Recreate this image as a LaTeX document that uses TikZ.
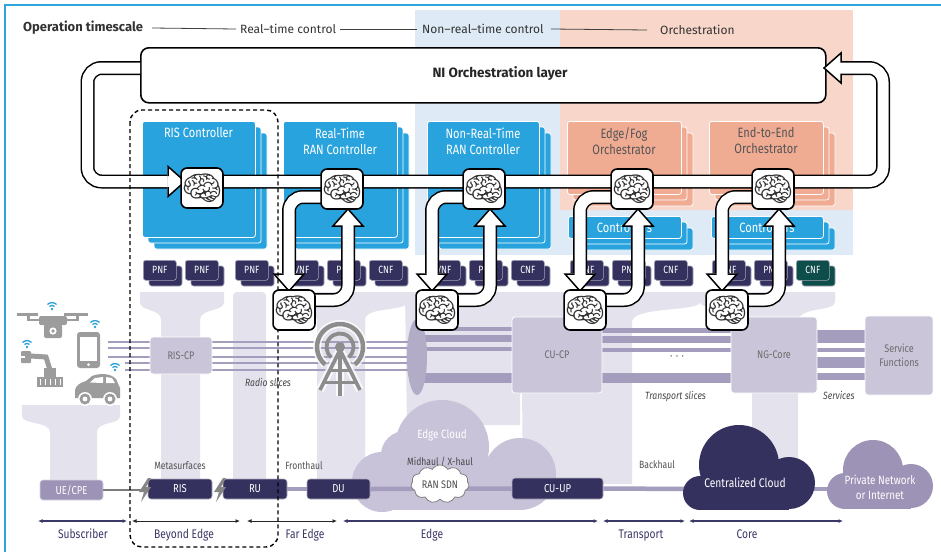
\documentclass[tikz,border=0pt]{standalone}
\usepackage{fontspec}
\setmainfont{Fira Sans}
\newfontfamily\cond[FakeStretch=0.82]{Fira Sans}
\newfontfamily\emo{Noto Emoji}
\usetikzlibrary{arrows.meta,shapes.symbols}

\definecolor{frameblue}{HTML}{2EA7DF}
\definecolor{nrtbg}{HTML}{DEEBF7}
\definecolor{orchbg}{HTML}{F8D6C9}
\definecolor{ctlblue}{HTML}{29A3DD}
\definecolor{salmon}{HTML}{F0AB93}
\definecolor{navy}{HTML}{34315F}
\definecolor{cnfgreen}{HTML}{0D4D4A}
\definecolor{pillar}{HTML}{E4E2EC}
\definecolor{lav}{HTML}{CBC5DA}
\definecolor{lavdark}{HTML}{9D93B6}
\definecolor{slice}{HTML}{A59DBD}
\definecolor{edgecloud}{HTML}{C9C3D9}
\definecolor{txtgray}{HTML}{6B6B6B}
\definecolor{icongray}{HTML}{9C9C9C}
\definecolor{towergray}{HTML}{8D8D8D}
\definecolor{wifiblue}{HTML}{2B9FD9}
\definecolor{spannavy}{HTML}{3A3866}
\definecolor{braingray}{HTML}{333333}
\definecolor{orchtext}{HTML}{555555}

% back sheets of a stacked panel: style, x, y, width, height
\newcommand\sheets[5]{%
  \draw[#1] (#2+12,#3+12) rectangle ++(#4,#5);
  \draw[#1] (#2+6,#3+6) rectangle ++(#4,#5);}
% network function tile with its shadow: name, x, label, fill
\newcommand\nfunit[4]{%
  \draw[nfsh, fill=#4] (#2+6,266) rectangle ++(33,20);
  \node[nf, fill=#4, anchor=north west] (#1) at (#2,260) {#3};}
% hollow pipe: black rim, white core
\newcommand\pipe[1]{\draw[pipeO] #1; \draw[pipeI] #1;}
% hollow arrowhead: tip x, tip y, direction
\newcommand\arrowhd[3]{%
  \begin{scope}[shift={(#1,#2)},rotate=#3]
    \fill[white] (-17.6,-15) -- (0,0) -- (-17.6,15) -- cycle;
    \draw[black,line width=1.5,line join=miter,miter limit=10]
      (-17,-5.5) -- (-17,-15) -- (0,0) -- (-17,15) -- (-17,5.5);
  \end{scope}}
% small wifi mark above a point
\newcommand\wifi[2]{%
  \fill[wifiblue] (#1,#2) circle (1.4);
  \draw[wifiblue,line width=1.3] ([shift={(225:3.6)}]#1,#2) arc[start angle=225,end angle=315,radius=3.6];
  \draw[wifiblue,line width=1.3] ([shift={(225:6.4)}]#1,#2) arc[start angle=225,end angle=315,radius=6.4];}
% lightning bolt centred on a point
\newcommand\bolt[2]{%
  \fill[icongray!85!black] (#1+3,#2-12) -- (#1-6,#2+2) -- (#1-1,#2+2) -- (#1-4,#2+12)
    -- (#1+6,#2-3) -- (#1+1,#2-3) -- (#1+6,#2-12) -- cycle;}
\newcommand\brainglyph{{\emo\fontsize{33}{33}\selectfont\textcolor{braingray}{🧠}}}

\begin{document}
\begin{tikzpicture}[x=1pt,y=-1pt,
  hdr/.style={anchor=west, inner sep=0, text=black!80, font=\fontsize{12}{14}\selectfont},
  hline/.style={draw=black!75, line width=0.8},
  ctl/.style={fill=ctlblue, draw=white, line width=0.8, rounded corners=2.5},
  orchbox/.style={fill=salmon, draw=white, line width=0.8, rounded corners=2.5},
  paneltext/.style={anchor=north, align=center, inner sep=0, text=white, font=\cond\fontsize{13.5}{16.5}\selectfont},
  nf/.style={draw=white!55!navy, line width=0.6, rounded corners=2.5, minimum width=33, minimum height=20,
    inner sep=0, text=white, font=\cond\fontsize{10.5}{12}\selectfont},
  nfsh/.style={draw=white!55!navy, line width=0.6, rounded corners=2.5},
  midbox/.style={fill=lav, draw=white, line width=0.8, rounded corners=3, inner sep=0, text=txtgray,
    font=\cond\fontsize{11}{14}\selectfont, align=center},
  rowbox/.style={fill=navy, draw=white!60!navy, line width=0.6, rounded corners=3, minimum height=20,
    inner sep=0, text=white, font=\cond\fontsize{11.5}{13}\selectfont},
  lbl/.style={anchor=base, inner sep=0, text=black!68, font=\cond\fontsize{10.5}{12}\selectfont},
  spanlbl/.style={anchor=base, inner sep=0, text=spannavy, font=\cond\fontsize{12.5}{14}\selectfont},
  slicelbl/.style={anchor=base west, inner sep=0, text=black!72, font=\cond\itshape\fontsize{10.5}{12}\selectfont},
  span/.style={draw=spannavy, line width=1.6, {Latex[length=4.5,width=4]}-{Latex[length=4.5,width=4]}},
  spanthin/.style={draw=black!85, line width=0.9, {Latex[length=4.5,width=4]}-{Latex[length=4.5,width=4]}},
  link/.style={draw=slice, line width=4.5},
  pipeO/.style={draw=black, line width=14, rounded corners=14},
  pipeI/.style={draw=white, line width=11, rounded corners=14},
  brainbox/.style={draw=black, line width=1.6, fill=white, rounded corners=6, minimum width=41,
    minimum height=40, inner sep=0}]

\useasboundingbox (0,0) rectangle (941,552);
\fill[white] (0,0) rectangle (941,552);

% ---- timescale bands and frame
\fill[nrtbg] (415,10) rectangle (853,255);
\fill[orchbg] (560,10) rectangle (853,210);
\draw[frameblue, line width=1.4] (5,552) -- (5,5) -- (941,5);

% ---- header
\node[hdr, font=\bfseries\fontsize{13}{15}\selectfont] (ts) at (23,28) {Operation timescale};
\node[hdr] (rt) at (240,29) {Real–time control};
\node[hdr] (nrt) at (422,29) {Non–real–time control};
\node[hdr] (orc) at (660,30) {Orchestration};
\draw[hline] ([xshift=9]ts.east) -- ([xshift=-4]rt.west);
\draw[hline] ([xshift=4]rt.east) -- ([xshift=-5]nrt.west);
\draw[hline] ([xshift=7]nrt.east) -- ([xshift=-13]orc.west);

% ---- pillars behind the network
\fill[pillar] (22,405) -- (120,405) -- (120,416) .. controls (120,425) and (97,421) .. (97,432)
  -- (97,482) -- (50,482) -- (50,432) .. controls (50,421) and (22,425) .. (22,416) -- cycle;
\fill[pillar] (140,292) -- (224,292) -- (224,302) .. controls (224,312) and (200,308) .. (200,320)
  -- (200,482) -- (161,482) -- (161,320) .. controls (161,308) and (140,312) .. (140,302) -- cycle;
\fill[pillar, rounded corners=4] (233,292) rectangle (266,482);
\fill[pillar] (277,292) -- (407,292) -- (407,302) .. controls (407,312) and (365,306) .. (365,320)
  -- (365,482) -- (317,482) -- (317,320) .. controls (317,306) and (277,312) .. (277,302) -- cycle;
\fill[pillar] (405,292) -- (548,292) -- (548,302) .. controls (548,312) and (520,306) .. (520,322)
  -- (520,425) -- (407,425) -- cycle;
\fill[pillar] (521,292) -- (700,292) -- (700,302) .. controls (700,312) and (632,306) .. (632,322)
  -- (632,484) -- (523,484) -- cycle;
\fill[pillar] (700,292) -- (835,292) -- (835,302) .. controls (835,312) and (798,306) .. (798,322)
  -- (798,470) -- (752,470) -- (752,322) .. controls (752,306) and (700,312) .. (700,302) -- cycle;

% ---- orchestration layer
\node[draw=black, line width=1.6, fill=white, rounded corners=8, minimum width=685, minimum height=55,
  inner sep=0, anchor=north west] (orch) at (140,47) {};
\node[inner sep=0, text=black!85, font=\bfseries\fontsize{13.5}{16}\selectfont] (orchlbl) at (500,74) {NI Orchestration layer};

% ---- controllers and orchestrators
\sheets{ctl}{142}{121}{113}{116}
\node[ctl, anchor=north west, minimum width=113, minimum height=116, inner sep=0] (risctl) at (142,121) {};
\node[paneltext, anchor=base] (risctlt) at (198.5,137) {RIS Controller};

\sheets{ctl}{283}{121}{114}{116}
\node[ctl, anchor=north west, minimum width=114, minimum height=116, inner sep=0] (rtctl) at (283,121) {};
\node[paneltext] (rtctlt) at (340,127.5) {Real-Time\\RAN Controller};

\sheets{ctl}{427}{121}{112}{116}
\node[ctl, anchor=north west, minimum width=112, minimum height=116, inner sep=0] (nrtctl) at (427,121) {};
\node[paneltext] (nrtctlt) at (483,127.5) {Non-Real-Time\\RAN Controller};

\sheets{orchbox}{567}{121}{114}{73}
\node[orchbox, anchor=north west, minimum width=114, minimum height=73, inner sep=0] (efo) at (567,121) {};
\node[paneltext, text=orchtext, font=\cond\fontsize{13.5}{15.5}\selectfont] (efot) at (624,127.5) {Edge/Fog\\Orchestrator};

\sheets{orchbox}{709}{121}{114}{73}
\node[orchbox, anchor=north west, minimum width=114, minimum height=73, inner sep=0] (e2e) at (709,121) {};
\node[paneltext, text=orchtext, font=\cond\fontsize{13.5}{15.5}\selectfont] (e2et) at (766,127.5) {End-to-End\\Orchestrator};

\sheets{ctl}{568}{216}{113}{22}
\node[ctl, anchor=north west, minimum width=113, minimum height=22, inner sep=0] (efc) at (568,216) {};
\node[paneltext, anchor=base] (efct) at (624.5,232) {Controllers};

\sheets{ctl}{711}{216}{112}{22}
\node[ctl, anchor=north west, minimum width=112, minimum height=22, inner sep=0] (e2c) at (711,216) {};
\node[paneltext, anchor=base] (e2ct) at (767,232) {Controllers};

% ---- network functions
\nfunit{nf1}{143}{PNF}{navy}
\nfunit{nf2}{185}{PNF}{navy}
\nfunit{nf3}{235}{PNF}{navy}
\nfunit{nf4}{285}{VNF}{navy}
\nfunit{nf5}{327}{PNF}{navy}
\nfunit{nf6}{369}{CNF}{navy}
\nfunit{nf7}{427}{VNF}{navy}
\nfunit{nf8}{469}{PNF}{navy}
\nfunit{nf9}{511}{CNF}{navy}
\nfunit{nf10}{570}{VNF}{navy}
\nfunit{nf11}{612}{PNF}{navy}
\nfunit{nf12}{654}{CNF}{navy}
\nfunit{nf13}{712}{VNF}{navy}
\nfunit{nf14}{754}{PNF}{navy}
\nfunit{nf15}{796}{CNF}{cnfgreen}

% ---- user devices
% drone
\fill[icongray] (17,313) rectangle (38,316);
\fill[icongray] (64,313) rectangle (88,316);
\fill[icongray] (26.5,315) rectangle (29.5,321);
\fill[icongray] (75.5,315) rectangle (78.5,321);
\draw[icongray, line width=2.2] (27,320) -- (78,320);
\fill[icongray, rounded corners=2] (39,316) rectangle (67,325);
\fill[icongray, rounded corners=2] (44,324) rectangle (62,338);
\fill[white] (53,331) circle (3.6);
\fill[icongray] (53,331) circle (1.8);
\wifi{52}{309}
% tablet
\fill[icongray, rounded corners=3] (77,332) rectangle (100,368);
\fill[white] (80,337) rectangle (97,361);
\fill[white] (88.5,364.5) circle (1.5);
\wifi{95}{327}
% robot arm
\fill[icongray] (37,377) rectangle (63,387);
\foreach \k in {40,45,...,60} \draw[white, line width=0.8] (\k,379) -- (\k,385);
\fill[icongray] (44,368) rectangle (56,377);
\draw[icongray, line width=5, line cap=round] (50,370) -- (46,357) -- (31,356);
\fill[icongray, rounded corners=1] (21,351) rectangle (31,363);
\fill[white] (21,356) rectangle (25,358);
\wifi{27}{347}
% car
\fill[icongray] (75,398) -- (75,390) .. controls (76,385) and (80,383) .. (86,381) -- (92,376)
  .. controls (100,373) and (110,373) .. (116,379) -- (120,388) -- (120,398) -- cycle;
\fill[white] (90,382.5) -- (95,378) -- (103,377) -- (103,383) -- cycle;
\fill[white] (106,377) -- (112,378) -- (115,383) -- (106,383) -- cycle;
\fill[white] (85,399) circle (7);
\fill[white] (110,399) circle (7);
\fill[icongray] (85,399) circle (5.5);
\fill[icongray] (110,399) circle (5.5);
\fill[white] (85,399) circle (2.4);
\fill[white] (110,399) circle (2.4);
\wifi{115}{370}

% ---- radio slices
\foreach \yy/\xs in {342/108,348/108,357/108,363/125,370/125} {
  \draw[slice, line width=2.6] (\xs,\yy) -- (150,\yy);
  \draw[slice, line width=2.6] (212,\yy) -- (417,\yy);}
% transport slices
\foreach \yy/\ww in {329/4,338.5/7,349/4,378/10} \draw[slice, line width=\ww] (417,\yy) -- (512,\yy);
\foreach \yy/\ww in {330.5/5,339.5/7,350/4,378/10} \draw[slice, line width=\ww] (602,\yy) -- (731,\yy);
% services
\foreach \yy/\ww in {336.5/13,350/4,362.5/11,376.5/7} \draw[slice, line width=\ww] (817,\yy) -- (865,\yy);

\fill[slice!85!white] (417,357) ellipse [x radius=10, y radius=38];

\node[midbox, minimum width=62, minimum height=37] (riscp) at (181,355.5) {RIS-CP};
\node[midbox, minimum width=90, minimum height=76] (cucp) at (557,355) {CU-CP};
\node[midbox, minimum width=86, minimum height=76] (ngcore) at (774,355) {NG-Core};
\node[midbox, minimum width=68, minimum height=79] (svcf) at (899,355.5) {Service\\Functions};
\node[inner sep=0, text=black!70, font=\fontsize{10}{12}\selectfont] (dots) at (677,358) {·\,\,·\,\,·};

% radio tower
\begin{scope}
  \draw[white, line width=8, opacity=0.8] ([shift={(130:23)}]340,347) arc[start angle=130,end angle=410,radius=23];
  \draw[white, line width=8, opacity=0.8] (320,390) -- (340,350) -- (360,390) (340,350) -- (340,396);
  \draw[towergray, line width=4.5] ([shift={(130:23)}]340,347) arc[start angle=130,end angle=410,radius=23];
  \draw[towergray, line width=3.8] ([shift={(130:13.5)}]340,347) arc[start angle=130,end angle=410,radius=13.5];
  \fill[towergray] (340,347) circle (5);
  \draw[towergray, line width=3.6] (320,390) -- (340,350) -- (360,390);
  \draw[towergray, line width=3.6] (340,350) -- (340,396);
  \draw[towergray, line width=3] (330,370) -- (350,370) (325,382) -- (355,382);
\end{scope}

\node[slicelbl] (radiosl) at (245,386) {Radio slices};
\node[slicelbl] (transl) at (645,399) {Transport slices};
\node[slicelbl] (servl) at (823,399) {Services};

% ---- clouds
\fill[edgecloud] (382,482) circle (30) (405,455) circle (24) (442,447) circle (47) (520,474) circle (36);
\fill[edgecloud] (382,462) rectangle (520,510);
\node[lbl, text=white, font=\cond\fontsize{12}{14}\selectfont] (edgel) at (442,438) {Edge Cloud};
\node[lbl, text=black!72] (midl) at (440,465) {Midhaul / X-haul};

% ---- access, fronthaul, midhaul, backhaul chain
\node[rowbox, fill=lavdark, draw=white!60!lavdark, minimum width=63] (uecpe) at (71.5,490) {UE/CPE};
\node[rowbox, minimum width=64] (ris) at (180,489) {RIS};
\node[rowbox, minimum width=64] (ru) at (255,489) {RU};
\node[rowbox, minimum width=63] (du) at (338.5,489) {DU};
\node[rowbox, minimum width=91, minimum height=21] (cuup) at (557.5,488.5) {CU-UP};
\coordinate (boltA) at (145,490);
\coordinate (boltB) at (220,490);
\coordinate (ccw) at (692,489);
\coordinate (cce) at (810,489);
\coordinate (pcw) at (832,489);

\draw[icongray!80!black, line width=1.3] (uecpe.east) -- (boltA);
\draw[link] (ru.east) -- (du.west);
\draw[link] (du.east) -- (cuup.west);
\draw[link] (cuup.east) -- (ccw);
\draw[link] (cce) -- (pcw);

\node[cloud, cloud puffs=11, cloud puff arc=115, aspect=1.5, draw=black!50, fill=white, line width=0.8,
  minimum width=58, minimum height=38, inner sep=0] (sdn) at (440,484) {};
\node[inner sep=0, text=black!70, font=\cond\fontsize{11}{13}\selectfont] (sdnt) at (440,485) {RAN SDN};

\bolt{145}{490}
\bolt{220}{490}

\fill[navy] (700,493) circle (17) (739,465) circle (40) (789,483) circle (26);
\fill[navy] (700,478) rectangle (789,509.5);
\node[inner sep=0, text=white, font=\cond\fontsize{12.5}{14}\selectfont] (ccl) at (745,483) {Centralized Cloud};

\fill[lavdark] (845,491) circle (18) (873,470) circle (30) (911,486) circle (22);
\fill[lavdark] (845,480) rectangle (911,508.5);
\node[inner sep=0, align=center, text=white, font=\cond\fontsize{12}{15}\selectfont] (pcl) at (880,487) {Private Network\\or Internet};

\node[lbl] (metal) at (180,469) {Metasurfaces};
\node[lbl] (frontl) at (304,469) {Fronthaul};
\node[lbl] (backl) at (657,468) {Backhaul};

% ---- domain spans
\coordinate (s0) at (38,521);   \coordinate (s1) at (127,521);
\coordinate (s2) at (132,521);  \coordinate (s3) at (240,521);
\coordinate (s4) at (247,521);  \coordinate (s5) at (337,521);
\coordinate (s6) at (343,521);  \coordinate (s7) at (598,521);
\coordinate (s8) at (603,521);  \coordinate (s9) at (685,521);
\coordinate (s10) at (689,521); \coordinate (s11) at (843,521);
\draw[span] (s0) -- (s1);
\draw[spanthin] (s2) -- (s3);
\draw[spanthin] (s4) -- (s5);
\draw[span] (s6) -- (s7);
\draw[span] (s8) -- (s9);
\draw[span] (s10) -- (s11);
\node[spanlbl] (subl) at (83,538) {Subscriber};
\node[spanlbl] (beyl) at (184,538) {Beyond Edge};
\node[spanlbl] (farl) at (305,538) {Far Edge};
\node[spanlbl] (edgl) at (432,538) {Edge};
\node[spanlbl] (trl) at (641,538) {Transport};
\node[spanlbl] (corel) at (747,538) {Core};

% ---- intelligence loop
\coordinate (u1) at (202,188);
\coordinate (u2) at (342,189);
\coordinate (u3) at (484,189);
\coordinate (u4) at (632,189);
\coordinate (u5) at (773,189);
\coordinate (l2) at (294,310);
\coordinate (l3) at (437,310);
\coordinate (l4) at (585,310);
\coordinate (l5) at (727,310);
\coordinate (loopL) at (140,68);

\pipe{(loopL) -- (87.5,68) -- (87.5,181.5) -- (167.5,181.5)}
\pipe{(u1) ++(0,-6.5) -- (883,181.5) -- (883,68) -- (840.5,68)}
% per-controller control loops
\pipe{(u2) ++(0,8) -- (289,197) -- (289,274.5)}
\pipe{(l2) ++(0,-10) -- (348,300) -- (348,225.5)}
\pipe{(u3) ++(0,8) -- (432,197) -- (432,274.5)}
\pipe{(l3) ++(0,-10) -- (490,300) -- (490,225.5)}
\pipe{(u4) ++(0,8) -- (580,197) -- (580,274.5)}
\pipe{(l4) ++(0,-10) -- (638,300) -- (638,225.5)}
\pipe{(u5) ++(0,8) -- (722,197) -- (722,274.5)}
\pipe{(l5) ++(0,-10) -- (779,300) -- (779,225.5)}

\arrowhd{185}{181.5}{0}
\arrowhd{824}{68}{180}
\arrowhd{289}{291}{-90}
\arrowhd{348}{209}{90}
\arrowhd{432}{291}{-90}
\arrowhd{490}{209}{90}
\arrowhd{580}{291}{-90}
\arrowhd{638}{209}{90}
\arrowhd{722}{291}{-90}
\arrowhd{779}{209}{90}

% ---- beyond-edge grouping
\draw[black, line width=1.4, dash pattern=on 4pt off 3pt, rounded corners=12] (130,110) rectangle (278,547);

% ---- learning agents
\node[brainbox] (b1) at (u1) {\brainglyph};
\node[brainbox] (b2) at (u2) {\brainglyph};
\node[brainbox] (b3) at (u3) {\brainglyph};
\node[brainbox] (b4) at (u4) {\brainglyph};
\node[brainbox] (b5) at (u5) {\brainglyph};
\node[brainbox] (b6) at (l2) {\brainglyph};
\node[brainbox] (b7) at (l3) {\brainglyph};
\node[brainbox] (b8) at (l4) {\brainglyph};
\node[brainbox] (b9) at (l5) {\brainglyph};
\end{tikzpicture}
\end{document}
